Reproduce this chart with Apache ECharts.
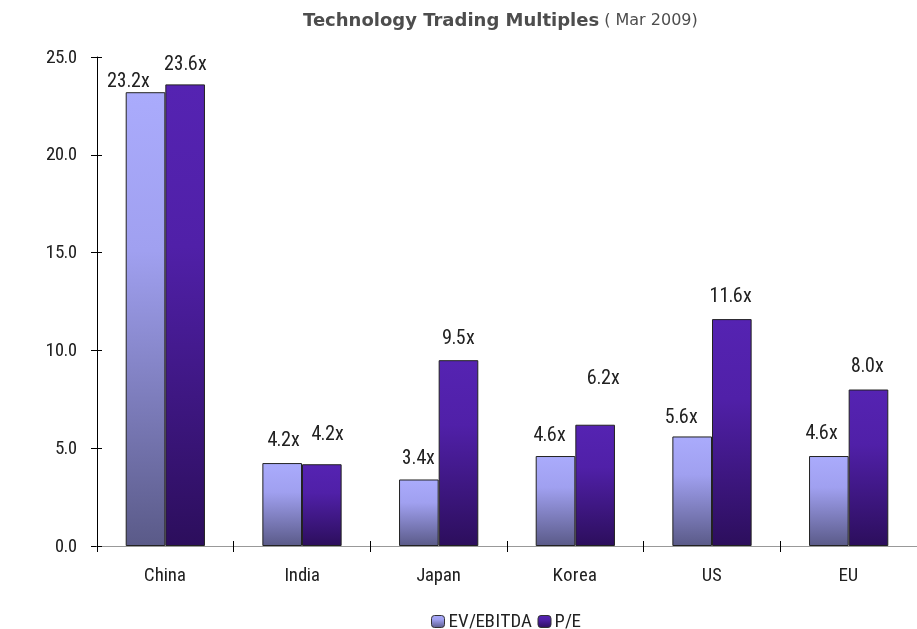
<!DOCTYPE html>
<html>
<head>
<meta charset="utf-8">
<script src="https://cdn.jsdelivr.net/npm/echarts@6/dist/echarts.min.js"></script>
<style>
@font-face { font-family: 'RC'; src: local('Roboto Condensed'), local('RobotoCondensed-Regular'), local('Roboto Condensed Regular'); }
html,body{margin:0;padding:0;background:#fff}#c{width:917px;height:629px}
</style>
</head>
<body>
<div id="c"></div>
<script>
var categories = ['China', 'India', 'Japan', 'Korea', 'US', 'EU'];
var evEbitda = [23.2, 4.24, 3.4, 4.6, 5.6, 4.6];
var pe = [23.6, 4.18, 9.5, 6.2, 11.6, 8.0];
var yTicks = [0, 5, 10, 15, 20, 25];
var seriesNames = ['EV/EBITDA', 'P/E'];

// label nudges (style only)
var evOffsets = [[-17, 2], [1, -10], [0, -8], [-6, -8], [-11, -6], [-7, -10]];
var peOffsets = [[0, -7], [6, -17], [0, -9], [8, -34], [-1, -10], [-1, -10]];

var FONT = "RC, 'Roboto', sans-serif";

function grad(top, mid, bottom) {
  return new echarts.graphic.LinearGradient(0, 0, 0, 1, [
    { offset: 0, color: top },
    { offset: 0.35, color: mid },
    { offset: 1, color: bottom }
  ]);
}
var evColor = grad('#AAABFC', '#A0A0F0', '#5A5A88');
var peColor = grad('#5523B2', '#5020A8', '#2C0E5C');

function mkData(vals, offs) {
  return vals.map(function (v, i) {
    return { value: v, label: { offset: offs[i] } };
  });
}

var GRID = { left: 97, right: -6, top: 57, bottom: 83, containLabel: false };

function draw() {
  var chart = echarts.init(document.getElementById('c'), null, { renderer: 'canvas' });
  chart.setOption({
    animation: false,
    backgroundColor: '#fff',
    title: {
      left: 298, top: 7,
      text: '{b|Technology Trading Multiples} {n|( Mar 2009)}',
      textStyle: {
        rich: {
          b: { fontFamily: "'DejaVu Sans', sans-serif", fontWeight: 'bold', fontSize: 18, color: '#4d4d4d' },
          n: { fontFamily: "'DejaVu Sans', sans-serif", fontWeight: 'normal', fontSize: 16, color: '#4d4d4d' }
        }
      }
    },
    legend: {
      top: 607, left: 426,
      itemWidth: 13, itemHeight: 12, itemGap: 6,
      data: [
        { name: seriesNames[0], itemStyle: { color: evColor, borderColor: '#333', borderWidth: 1 } },
        { name: seriesNames[1], itemStyle: { color: peColor, borderColor: '#333', borderWidth: 1 } }
      ],
      textStyle: { fontFamily: FONT, fontSize: 19, color: '#222', padding: [0, 0, 0, -1] }
    },
    grid: [GRID, GRID],
    xAxis: [{
      gridIndex: 0, type: 'category', data: categories,
      axisLine: { show: true, lineStyle: { color: '#999', width: 1 } },
      axisTick: { show: true, length: 6, lineStyle: { color: '#000' } },
      axisLabel: { fontFamily: FONT, fontSize: 19, color: '#222', margin: 20 },
      z: 5
    }, {
      gridIndex: 1, type: 'category', data: categories, position: 'bottom',
      axisLine: { show: false },
      axisTick: { show: true, inside: true, length: 5, lineStyle: { color: '#000' } },
      axisLabel: { show: false },
      z: 6
    }],
    yAxis: [{
      gridIndex: 0, type: 'value', min: 0, max: 25, interval: 5,
      axisLine: { show: true, lineStyle: { color: '#000', width: 1 } },
      axisTick: { show: true, length: 6, lineStyle: { color: '#000' } },
      splitLine: { show: false },
      axisLabel: {
        fontFamily: FONT, fontSize: 19, color: '#222', margin: 20,
        formatter: function (v) { return yTicks.indexOf(v) >= 0 ? v.toFixed(1) : ''; }
      }
    }, {
      gridIndex: 1, type: 'value', min: 0, max: 25, interval: 5, position: 'left',
      axisLine: { show: false },
      axisTick: { show: true, inside: true, length: 5, lineStyle: { color: '#000' } },
      splitLine: { show: false },
      axisLabel: { show: false },
      z: 6
    }],
    series: [{
      name: seriesNames[0], type: 'bar', xAxisIndex: 0, yAxisIndex: 0,
      data: mkData(evEbitda, evOffsets),
      barGap: '0%', barCategoryGap: '42%',
      itemStyle: { color: evColor, borderColor: '#222', borderWidth: 1 },
      label: {
        show: true, position: 'top', distance: 3,
        fontFamily: FONT, fontSize: 20, color: '#222',
        formatter: function (p) { return p.value.toFixed(1) + 'x'; }
      }
    }, {
      name: seriesNames[1], type: 'bar', xAxisIndex: 0, yAxisIndex: 0,
      data: mkData(pe, peOffsets),
      barGap: '0%', barCategoryGap: '42%',
      itemStyle: { color: peColor, borderColor: '#222', borderWidth: 1 },
      label: {
        show: true, position: 'top', distance: 3,
        fontFamily: FONT, fontSize: 20, color: '#222',
        formatter: function (p) { return p.value.toFixed(1) + 'x'; }
      }
    }, {
      name: 'tickHelper', type: 'line', xAxisIndex: 1, yAxisIndex: 1,
      data: [], silent: true, showSymbol: false
    }]
  });
}
document.fonts.load('20px RC').catch(function () {}).then(draw);
</script>
</body>
</html>
